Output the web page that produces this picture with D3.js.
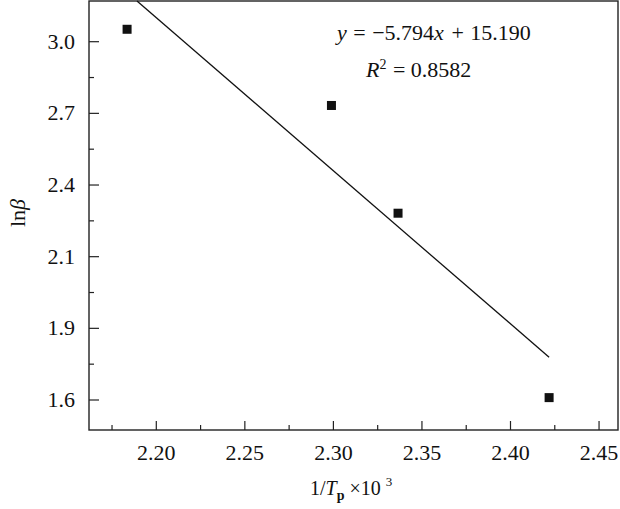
<!DOCTYPE html>
<html><head><meta charset="utf-8">
<script src="https://cdn.jsdelivr.net/npm/d3@7"></script>
<style>
html,body{margin:0;padding:0;background:#fff;}
svg{display:block;font-family:"Liberation Serif","Times New Roman",serif;}
</style></head>
<body>
<svg id="c" width="620" height="509"></svg>
<script>
// Data
const pointsX = [2.1835, 2.2989, 2.3365, 2.4218];
const pointsY = [3.052, 2.733, 2.282, 1.610];
// fitted line as drawn (endpoints)
const fitX = [2.1891, 2.4218];
const fitY = [3.17, 1.779];
const xTicks = [2.20, 2.25, 2.30, 2.35, 2.40, 2.45];
const xTickLabels = ["2.20", "2.25", "2.30", "2.35", "2.40", "2.45"];
const yTicks = [1.6, 1.9, 2.1, 2.4, 2.7, 3.0];
const yTickLabels = ["1.6", "1.9", "2.1", "2.4", "2.7", "3.0"];

const svg = d3.select("#c");
const L = 89, R = 618, T = 1, B = 430;
const col = "#222";

const x = d3.scaleLinear().domain([2.162, 2.4607]).range([L, R]);
// y axis labels are evenly spaced on the picture
const yBase = 400, yStep = 71.66;
const y = d3.scaleLinear().domain(yTicks).range(yTicks.map((d, i) => yBase - i * yStep));

// frame
svg.append("rect").attr("x", L).attr("y", T).attr("width", R - L).attr("height", B - T)
  .attr("fill", "none").attr("stroke", col).attr("stroke-width", 1.4);

// x axis ticks (inward)
const gx = svg.append("g");
xTicks.forEach((v, i) => {
  const px = x(v);
  gx.append("line").attr("x1", px).attr("x2", px).attr("y1", B).attr("y2", B - 9)
    .attr("stroke", col).attr("stroke-width", 1.2);
  gx.append("text").attr("x", px).attr("y", 460).attr("text-anchor", "middle")
    .attr("font-size", 22).attr("fill", "#111").text(xTickLabels[i]);
  const mx = x(v - 0.025);
  if (mx > L + 2) gx.append("line").attr("x1", mx).attr("x2", mx).attr("y1", B).attr("y2", B - 5)
    .attr("stroke", col).attr("stroke-width", 1.2);
});
// y axis ticks (inward)
const gy = svg.append("g");
yTicks.forEach((v, i) => {
  const py = y(v);
  gy.append("line").attr("x1", L).attr("x2", L + 10).attr("y1", py).attr("y2", py)
    .attr("stroke", col).attr("stroke-width", 1.2);
  gy.append("text").attr("x", 75).attr("y", py + 7).attr("text-anchor", "end")
    .attr("font-size", 22).attr("fill", "#111").text(yTickLabels[i]);
  if (i < yTicks.length - 1) {
    const my = (py + y(yTicks[i + 1])) / 2;
    gy.append("line").attr("x1", L).attr("x2", L + 5).attr("y1", my).attr("y2", my)
      .attr("stroke", col).attr("stroke-width", 1.2);
  }
});

// axis titles
const xt = svg.append("text").attr("x", 310).attr("y", 495).attr("font-size", 20).attr("fill", "#111");
xt.append("tspan").text("1/");
xt.append("tspan").attr("font-style", "italic").text("T");
xt.append("tspan").attr("font-size", 14).attr("font-weight", "bold").attr("dy", 5).text("p");
xt.append("tspan").attr("dy", -5).text(" ×10 ");
xt.append("tspan").attr("font-size", 13).attr("dy", -9).text("3");

const yt = svg.append("text").attr("transform", "translate(25,213) rotate(-90)")
  .attr("text-anchor", "middle").attr("font-size", 22).attr("fill", "#111");
yt.append("tspan").text("ln");
yt.append("tspan").attr("font-style", "italic").text("β");

// fitted line
svg.append("line")
  .attr("x1", x(fitX[0])).attr("y1", y(fitY[0]))
  .attr("x2", x(fitX[1])).attr("y2", y(fitY[1]))
  .attr("stroke", "#111").attr("stroke-width", 1.3);

// points
const s = 9;
svg.append("g").selectAll("rect").data(pointsX).join("rect")
  .attr("x", (d) => x(d) - s / 2).attr("y", (d, i) => y(pointsY[i]) - s / 2)
  .attr("width", s).attr("height", s).attr("fill", "#111");

// equation
const eq = svg.append("text").attr("x", 337).attr("y", 40).attr("font-size", 22).attr("fill", "#111");
eq.append("tspan").attr("font-style", "italic").text("y");
eq.append("tspan").attr("dx", 1).text(" = ");
eq.append("tspan").attr("dx", 1).text("−5.794");
eq.append("tspan").attr("font-style", "italic").text("x");
eq.append("tspan").attr("dx", 2).text(" + ");
eq.append("tspan").attr("dx", 1).text("15.190");
const r2 = svg.append("text").attr("x", 366).attr("y", 77).attr("font-size", 22).attr("fill", "#111");
r2.append("tspan").attr("font-style", "italic").text("R");
r2.append("tspan").attr("font-size", 14).attr("dy", -8).text("2");
r2.append("tspan").attr("dy", 8).attr("dx", 1).text(" = 0.8582");
</script>
</body></html>
